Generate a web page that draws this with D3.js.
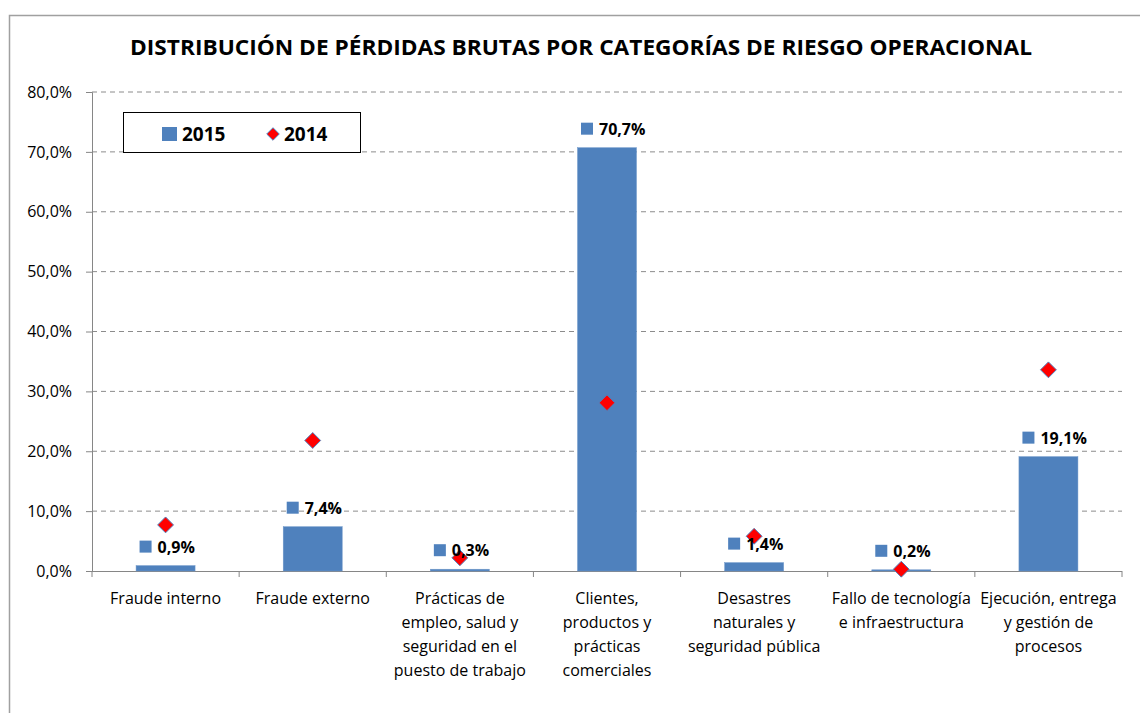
<!DOCTYPE html>
<html>
<head>
<meta charset="utf-8">
<script src="https://cdn.jsdelivr.net/npm/d3@7"></script>
<style>
  body { margin: 0; background: #fff; }
  text { font-family: "Open Sans", "Noto Sans", sans-serif; }
</style>
</head>
<body>
<div id="viz-container"></div>
<script>
let categories = [
    ["Fraude interno"],
    ["Fraude externo"],
    ["Prácticas de", "empleo, salud y", "seguridad en el", "puesto de trabajo"],
    ["Clientes,", "productos y", "prácticas", "comerciales"],
    ["Desastres", "naturales y", "seguridad pública"],
    ["Fallo de tecnología", "e infraestructura"],
    ["Ejecución, entrega", "y gestión de", "procesos"]
];
let values2015 = [0.9, 7.4, 0.3, 70.7, 1.4, 0.2, 19.1];
let values2014 = [7.7, 21.8, 2.2, 28.1, 5.8, 0.3, 33.6];
let yTicks = [0, 10, 20, 30, 40, 50, 60, 70, 80];

let es = d3.formatLocale({decimal: ",", thousands: ".", grouping: [3], currency: ["", "€"]});
let fmt = es.format(".1f");

let viz = d3.select("#viz-container")
    .append("svg")
        .attr("width", 1140)
        .attr("height", 713);

// chart border
viz.append("rect")
    .attr("x", 9.5).attr("y", 15.5)
    .attr("width", 1200).attr("height", 800)
    .attr("fill", "#fff")
    .attr("stroke", "#a0a0a0")
    .attr("stroke-width", 1.5);

let x = d3.scaleBand().domain(d3.range(categories.length)).range([92, 1122]);
let y = d3.scaleLinear().domain([0, 80]).range([571, 92]);

// title
viz.append("text")
    .attr("x", 581).attr("y", 55)
    .attr("text-anchor", "middle")
    .style("font-size", "21px")
    .attr("font-weight", "bold")
    .attr("textLength", 902)
    .attr("lengthAdjust", "spacingAndGlyphs")
    .text("DISTRIBUCIÓN DE PÉRDIDAS BRUTAS POR CATEGORÍAS DE RIESGO OPERACIONAL");

// gridlines
viz.selectAll(".grid").data(yTicks.slice(1)).enter()
    .append("line")
        .attr("class", "grid")
        .attr("x1", 92).attr("x2", 1122)
        .attr("y1", d => y(d)).attr("y2", d => y(d))
        .attr("stroke", "#8c8c8c")
        .attr("stroke-dasharray", "5,4");

// y axis
let yAxis = viz.append("g")
    .attr("transform", "translate(92,0)")
    .call(d3.axisLeft(y).tickValues(yTicks).tickSize(6).tickPadding(14).tickFormat(d => fmt(d) + "%"));
yAxis.select(".domain").attr("stroke", "#868686");
yAxis.selectAll(".tick line").attr("stroke", "#868686");
yAxis.selectAll("text")
    .attr("fill", "#000")
    .style("font-size", "16px")
    .style("font-family", "'Open Sans', sans-serif");

// x axis
viz.append("line")
    .attr("x1", 92).attr("x2", 1122).attr("y1", 571.5).attr("y2", 571.5)
    .attr("stroke", "#868686");
viz.selectAll(".xtick").data(d3.range(categories.length + 1)).enter()
    .append("line")
        .attr("class", "xtick")
        .attr("x1", d => 92 + d * x.step()).attr("x2", d => 92 + d * x.step())
        .attr("y1", 571).attr("y2", 577)
        .attr("stroke", "#868686");

// x labels
categories.forEach((lines, i) => {
    let t = viz.append("text")
        .attr("text-anchor", "middle")
        .style("font-size", "16px")
        .attr("fill", "#000");
    lines.forEach((ln, j) => {
        t.append("tspan")
            .attr("x", x(i) + x.bandwidth() / 2)
            .attr("y", 604 + j * 24)
            .text(ln);
    });
});

// bars 2015
let bw = 59;
viz.selectAll(".bar").data(values2015).enter()
    .append("rect")
        .attr("class", "bar")
        .attr("x", (d, i) => x(i) + x.bandwidth() / 2 - bw / 2)
        .attr("y", d => y(d))
        .attr("width", bw)
        .attr("height", d => y(0) - y(d))
        .attr("fill", "#4f81bd")
        .attr("stroke", "#6f97c9")
        .attr("stroke-width", 0.5);

// diamonds 2014
let diamond = d3.symbol().type(d3.symbolDiamond2).size(160);
viz.selectAll(".dia").data(values2014).enter()
    .append("path")
        .attr("class", "dia")
        .attr("d", diamond)
        .attr("transform", (d, i) => "translate(" + (x(i) + x.bandwidth() / 2) + "," + y(d) + ")")
        .attr("fill", "#ff0000")
        .attr("stroke", "#4f81bd")
        .attr("stroke-width", 1);

// data labels 2015
let lab = viz.selectAll(".lab").data(values2015).enter()
    .append("g")
        .attr("class", "lab")
        .attr("transform", (d, i) => "translate(" + (x(i) + x.bandwidth() / 2) + "," + (y(d) - 19) + ")");
lab.append("rect")
    .attr("x", -26).attr("y", -6)
    .attr("width", 12).attr("height", 12)
    .attr("fill", "#4f81bd");
lab.append("text")
    .attr("x", -8).attr("y", 6)
    .style("font-size", "16px")
    .attr("font-weight", "bold")
    .text(d => fmt(d) + "%");

// legend
let lg = viz.append("g");
lg.append("rect")
    .attr("x", 123.5).attr("y", 112.5)
    .attr("width", 237).attr("height", 40)
    .attr("fill", "#fff")
    .attr("stroke", "#000")
    .attr("stroke-width", 1);
lg.append("rect")
    .attr("x", 162).attr("y", 127)
    .attr("width", 15).attr("height", 14)
    .attr("fill", "#4f81bd");
lg.append("text")
    .attr("x", 182).attr("y", 141)
    .style("font-size", "19px").attr("font-weight", "bold")
    .text("2015");
lg.append("path")
    .attr("d", d3.symbol().type(d3.symbolDiamond2).size(100))
    .attr("transform", "translate(273,134)")
    .attr("fill", "#ff0000")
    .attr("stroke", "#4f81bd");
lg.append("text")
    .attr("x", 284).attr("y", 141)
    .style("font-size", "19px").attr("font-weight", "bold")
    .text("2014");
</script>
</body>
</html>
